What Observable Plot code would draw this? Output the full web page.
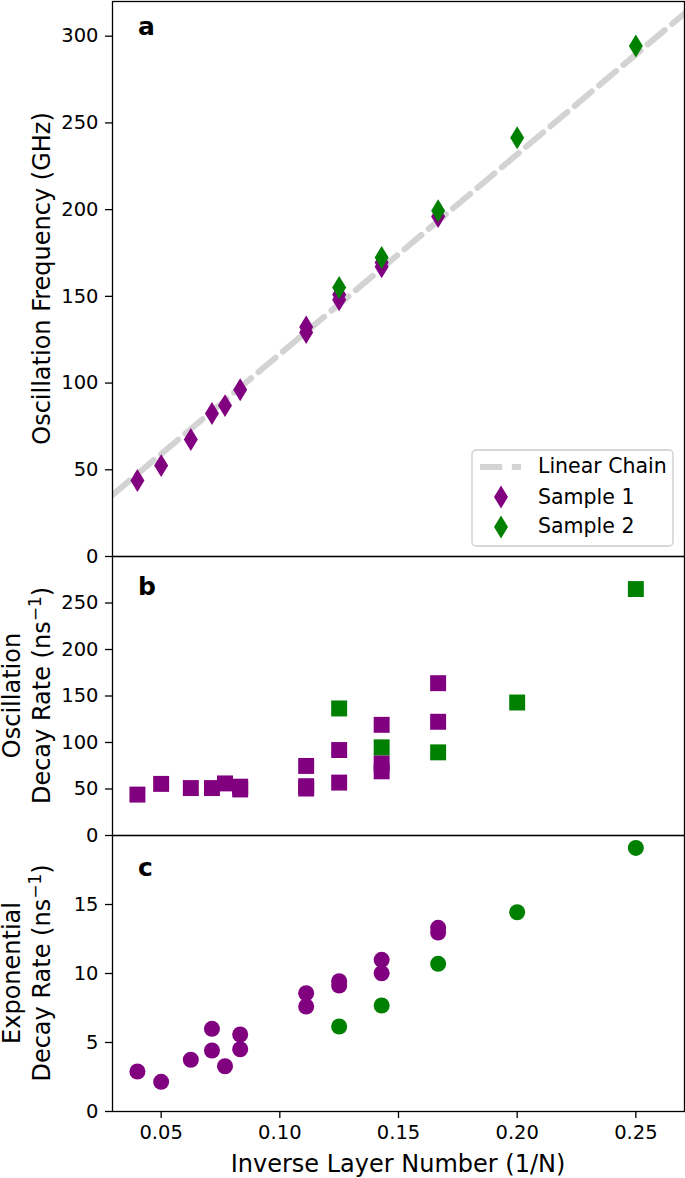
<!DOCTYPE html>
<html><head><meta charset="utf-8">
<script src="https://cdn.jsdelivr.net/npm/d3@7"></script>
<script src="https://cdn.jsdelivr.net/npm/@observablehq/plot@0.6"></script>
<style>
body{margin:0;background:#fff;}
#chart{position:relative;width:685px;height:1178px;font-family:"DejaVu Sans",sans-serif;}
#chart svg{display:block;}
</style></head><body><div id="chart"></div>
<script>
// ---------- data ----------
const xTicks = [0.05, 0.10, 0.15, 0.20, 0.25];
const xDomain = [0.0295, 0.2705];
const sampleNames = ["Sample 1", "Sample 2"];
const sampleColors = ["purple", "green"];
const legendLabels = ["Linear Chain", "Sample 1", "Sample 2"];

// panel a: oscillation frequency (GHz)
const freqX1 = [0.04, 0.05, 0.0625, 0.0714, 0.0769, 0.0833, 0.1111, 0.1111, 0.125, 0.125, 0.1429, 0.1429, 0.1667];
const freqY1 = [43.8, 52.4, 67.4, 82.4, 87.0, 96.2, 132.3, 129.2, 148.0, 151.0, 167.0, 169.5, 196.0];
const freqX2 = [0.125, 0.1429, 0.1667, 0.20, 0.25];
const freqY2 = [155.1, 172.4, 199.3, 241.5, 294.4];
const chainX = [0.0295, 0.2705];
const chainY = [35.5, 313.1];
const freqTicks = [0, 50, 100, 150, 200, 250, 300];

// panel b: oscillation decay rate (ns^-1)
const oscX1 = [0.04, 0.05, 0.0625, 0.0714, 0.0769, 0.0833, 0.0833, 0.1111, 0.1111, 0.1111, 0.125, 0.125, 0.1429, 0.1429, 0.1429, 0.1667, 0.1667];
const oscY1 = [44, 55.5, 51, 51, 56, 52.5, 49.5, 74.8, 53, 50.5, 91.9, 56.9, 119, 77.6, 69, 163.8, 122.3];
const oscX2 = [0.125, 0.1429, 0.1667, 0.20, 0.25];
const oscY2 = [136.6, 94.8, 89.4, 143, 265];
const oscTicks = [0, 50, 100, 150, 200, 250];

// panel c: exponential decay rate (ns^-1)
const expX1 = [0.04, 0.05, 0.0625, 0.0714, 0.0714, 0.0769, 0.0833, 0.0833, 0.1111, 0.1111, 0.125, 0.125, 0.1429, 0.1429, 0.1667, 0.1667];
const expY1 = [2.9, 2.15, 3.75, 5.99, 4.42, 3.28, 5.58, 4.51, 8.57, 7.61, 9.44, 9.13, 10.99, 10.02, 13.31, 12.97];
const expX2 = [0.125, 0.1429, 0.1667, 0.20, 0.25];
const expY2 = [6.16, 7.68, 10.7, 14.44, 19.1];
const expTicks = [0, 5, 10, 15];

// ---------- helpers ----------
const zip = (xs, ys) => xs.map((x, i) => ({x, y: ys[i]}));
const thinDiamond = {
  draw(ctx, size) {
    const r = Math.sqrt(size / Math.PI), w = r, h = r * 1.64;
    ctx.moveTo(0, -h); ctx.lineTo(w, 0); ctx.lineTo(0, h); ctx.lineTo(-w, 0); ctx.closePath();
  }
};
const FONT = "DejaVu Sans";

function panel({height, marginTop, marginBottom, yDomain, yTicks, marks, showX}) {
  return Plot.plot({
    width: 685, height, marginLeft: 112, marginRight: 1, marginTop, marginBottom,
    style: {fontFamily: FONT, fontSize: "19.5px", background: "white", color: "black", overflow: "visible"},
    x: showX ? {domain: xDomain} : {domain: xDomain, axis: null},
    y: {domain: yDomain},
    marks: [
      ...marks,
      Plot.axisY({ticks: yTicks, tickSize: 7, tickPadding: 7, label: null, strokeWidth: 1.3, tickFormat: d => String(d)}),
      showX ? Plot.axisX({ticks: xTicks, tickSize: 7, tickPadding: 7, label: null, strokeWidth: 1.3, tickFormat: d3.format(".2f")}) : null,
      Plot.frame({stroke: "black", strokeWidth: 1.3})
    ]
  });
}

// ---------- panels ----------
const svgA = panel({
  height: 556, marginTop: 1, marginBottom: 0, yDomain: [0, 320], yTicks: freqTicks,
  marks: [
    Plot.line(zip(chainX, chainY), {x: "x", y: "y", stroke: "#d3d3d3", strokeWidth: 6, strokeDasharray: "22.2,9.6", clip: true}),
    Plot.dot(zip(freqX1, freqY1), {x: "x", y: "y", symbol: thinDiamond, r: 7, fill: sampleColors[0], stroke: "none"}),
    Plot.dot(zip(freqX2, freqY2), {x: "x", y: "y", symbol: thinDiamond, r: 7, fill: sampleColors[1], stroke: "none"})
  ]
});
const svgB = panel({
  height: 279, marginTop: 0, marginBottom: 0, yDomain: [0, 300], yTicks: oscTicks,
  marks: [
    Plot.dot(zip(oscX1, oscY1), {x: "x", y: "y", symbol: "square", r: 9, fill: sampleColors[0], stroke: "none"}),
    Plot.dot(zip(oscX2, oscY2), {x: "x", y: "y", symbol: "square", r: 9, fill: sampleColors[1], stroke: "none"})
  ]
});
const svgC = panel({
  height: 343, marginTop: 0, marginBottom: 67, yDomain: [0, 20], yTicks: expTicks, showX: true,
  marks: [
    Plot.dot(zip(expX1, expY1), {x: "x", y: "y", symbol: "circle", r: 8, fill: sampleColors[0], stroke: "none"}),
    Plot.dot(zip(expX2, expY2), {x: "x", y: "y", symbol: "circle", r: 8, fill: sampleColors[1], stroke: "none"})
  ]
});
document.getElementById("chart").append(svgA, svgB, svgC);

// ---------- annotations ----------
function yLabel(svg, cy, lines) {
  const g = d3.select(svg).append("g").attr("font-family", FONT).attr("font-size", 24).attr("fill", "black");
  lines.forEach(([bx, txt, sup]) => {
    const t = g.append("text").attr("transform", `translate(${bx},${cy}) rotate(-90)`).attr("text-anchor", "middle");
    if (sup) {
      t.append("tspan").text(txt);
      t.append("tspan").attr("font-size", 17).attr("dy", -9).text(sup);
      t.append("tspan").attr("dy", 9).text(")");
    } else t.text(txt);
  });
}
yLabel(svgA, 278.5, [[50, "Oscillation Frequency (GHz)"]]);
yLabel(svgB, 139.5, [[20, "Oscillation"], [50, "Decay Rate (ns", "\u22121"]]);
yLabel(svgC, 138, [[20, "Exponential"], [50, "Decay Rate (ns", "\u22121"]]);

function panelLetter(svg, letter, by) {
  d3.select(svg).append("text").attr("x", 138).attr("y", by).attr("font-family", FONT)
    .attr("text-anchor", "start").attr("font-size", 25).attr("font-weight", "bold").attr("fill", "black").text(letter);
}
panelLetter(svgA, "a", 35);
panelLetter(svgB, "b", 39);
panelLetter(svgC, "c", 41);

d3.select(svgC).append("text").attr("x", 398).attr("y", 337).attr("text-anchor", "middle")
  .attr("font-family", FONT).attr("font-size", 24).attr("fill", "black").text("Inverse Layer Number (1/N)");

// legend
const lg = d3.select(svgA).append("g").attr("font-family", FONT).attr("font-size", 20.5).attr("text-anchor", "start");
lg.append("rect").attr("x", 472).attr("y", 450).attr("width", 201).attr("height", 96).attr("rx", 4)
  .attr("fill", "white").attr("fill-opacity", 0.8).attr("stroke", "#cccccc").attr("stroke-width", 1.3);
lg.append("path").attr("d", "M480,467H521").attr("fill", "none")
  .attr("stroke", "#d3d3d3").attr("stroke-width", 6).attr("stroke-dasharray", "22.2,9.6");
const dpath = (cx, cy) => `M${cx},${cy - 11.5}L${cx + 7},${cy}L${cx},${cy + 11.5}L${cx - 7},${cy}Z`;
lg.append("path").attr("d", dpath(501, 497)).attr("fill", sampleColors[0]).attr("stroke", "none");
lg.append("path").attr("d", dpath(501, 527)).attr("fill", sampleColors[1]).attr("stroke", "none");
[473.3, 503.5, 533.3].forEach((by, i) => {
  lg.append("text").attr("x", 538).attr("y", by).attr("fill", "black").attr("text-anchor", "start").text(legendLabels[i]);
});
</script></body></html>
